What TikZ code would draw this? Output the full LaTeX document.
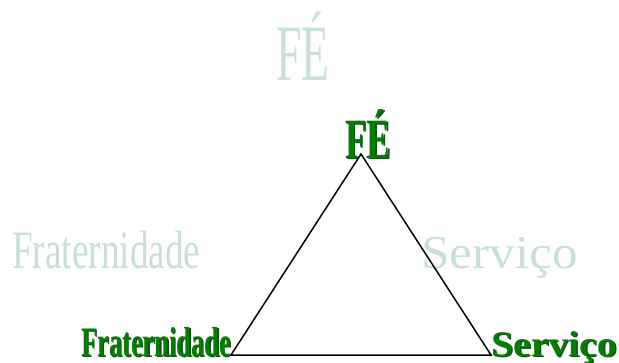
\documentclass[tikz,border=0pt]{standalone}
\usepackage{fontspec}
\setmainfont{Liberation Serif}
\usepackage{graphicx}
\usepackage{xcolor}
\usetikzlibrary{positioning,calc}
\definecolor{FG}{HTML}{008000}
\definecolor{FGshadow}{HTML}{1F4A1F}
\definecolor{FGfaint}{RGB}{200,225,214}
\newcommand{\wordbox}[3]{{\fontsize{#1}{#1}\selectfont\scalebox{#2}[1]{#3}}}

\begin{document}
\begin{tikzpicture}[x=1pt,y=-1pt,
    faintword/.style={anchor=base west, inner sep=0pt, text=FGfaint},
    boldword/.style={anchor=base west, inner sep=0pt, text=FG, font=\bfseries},
    shadowword/.style={anchor=base west, inner sep=0pt, text=FGshadow, font=\bfseries}]
        \useasboundingbox (0,0) rectangle (619,362);
        % faint words in the back
        \node[faintword] (fe0) at (276,80) {\wordbox{80}{0.57}{FÉ}};
        \node[faintword] (frat0) at (12,268) {\wordbox{54}{0.69}{Fraternidade}};
        \node[faintword] (serv0) at (421,268) {\wordbox{47}{1.09}{Serviço}};
        % shadows of the green words
        \node[shadowword] (fe1s) at (346.5,159.5) {\wordbox{57}{0.62}{FÉ}};
        \node[shadowword] (frat1s) at (82.5,357.5) {\wordbox{42}{0.63}{Fraternidade}};
        \node[shadowword] (serv1s) at (492.5,357.5) {\wordbox{36}{1.10}{Serviço}};
        % triangle
        \coordinate (topc) at (361,154);
        \coordinate (leftc) at (231,355);
        \coordinate (rightc) at (491,355);
        \draw[line width=1.5pt, line join=miter] (topc) -- (leftc) -- (rightc) -- cycle;
        % green words
        \node[boldword] (fe1) at (345,158) {\wordbox{57}{0.62}{FÉ}};
        \node[boldword] (frat1) at (81,356) {\wordbox{42}{0.63}{Fraternidade}};
        \node[boldword] (serv1) at (491,356) {\wordbox{36}{1.10}{Serviço}};
      \end{tikzpicture}
\end{document}
